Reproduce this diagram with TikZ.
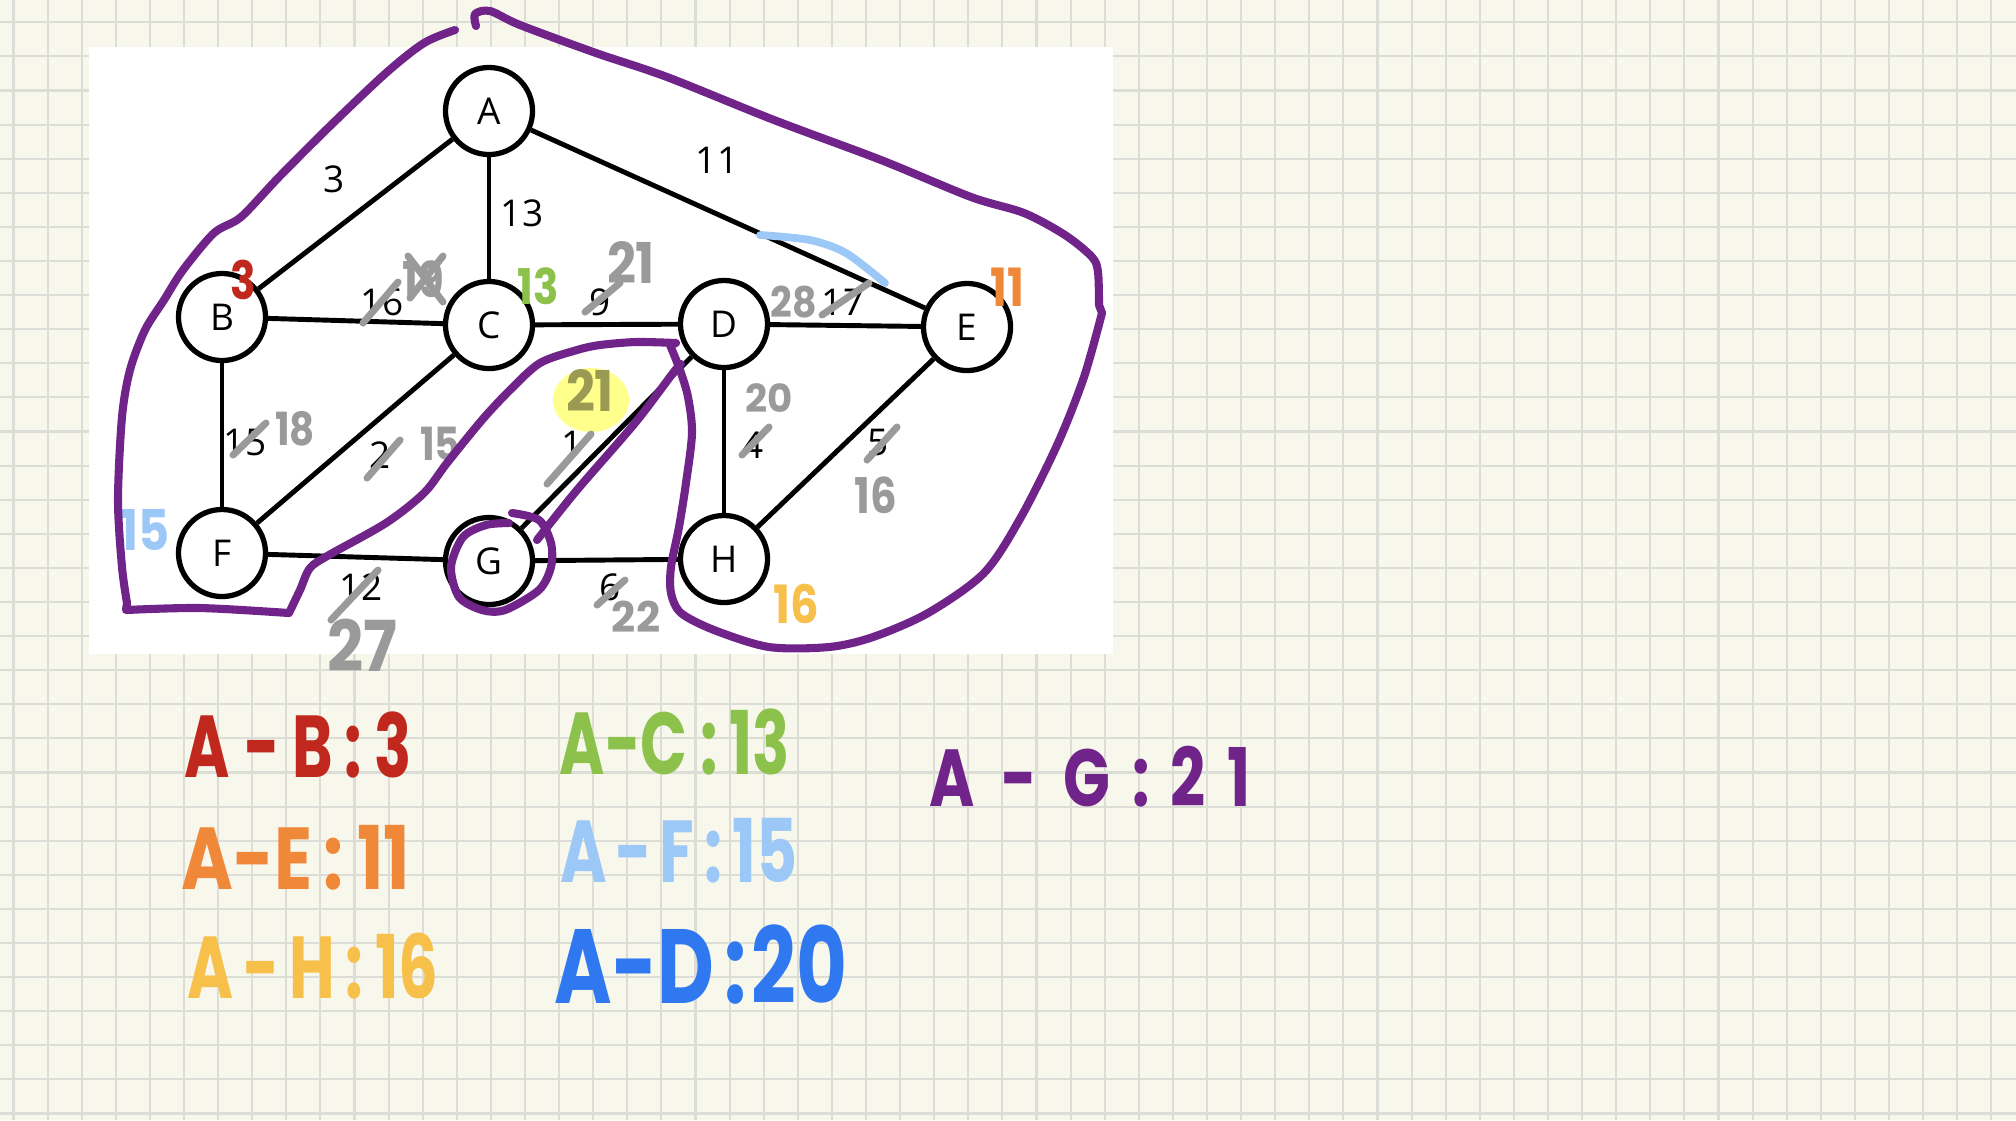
\documentclass[tikz,border=0pt]{standalone}
\usepackage{fontspec}
\setmainfont{Open Sans}
\newfontfamily\hand{Poppins}
\definecolor{bg}{HTML}{F7F7EC}
\definecolor{gridc}{HTML}{DDDDD8}
\definecolor{purp}{HTML}{70248A}
\definecolor{gr}{HTML}{9A9A9A}
\definecolor{hred}{HTML}{C0281E}
\definecolor{hgreen}{HTML}{8CC24C}
\definecolor{horange}{HTML}{F0883A}
\definecolor{hlblue}{HTML}{9CC8F8}
\definecolor{hyellow}{HTML}{F6C04A}
\definecolor{hblue}{HTML}{2F78F0}
\definecolor{hl}{HTML}{FFFF8C}
\definecolor{olivec}{HTML}{9A9A52}
\newcommand{\hfs}[1]{\hand\bfseries\fontsize{#1}{#1}\selectfont}
\tikzset{
  vtx/.style={circle, draw, line width=1.5pt, fill=white, minimum size=0.87cm, inner sep=0pt,
    font=\fontsize{10.5}{12}\selectfont},
  edgeline/.style={line width=1.4pt},
  wlbl/.style={inner sep=0pt, font=\fontsize{10.5}{12}\selectfont},
  hw/.style={inner sep=0pt},
  res/.style={inner sep=0pt, xscale=#1},
  strike/.style={gr, line width=2pt, line cap=round},
  purpline/.style={purp, line width=2.3pt, line cap=round, line join=round},
  gridline/.style={gridc, line width=0.6pt}
}
\begin{document}
\begin{tikzpicture}[x=0.01cm, y=-0.01cm]
\useasboundingbox (0,0) rectangle (2016,1120);
\fill[bg] (0,0) rectangle (2016,1120);
\foreach \i in {0,...,59} \draw[gridline] ({13.5+34.1*\i},0) -- ++(0,1120);
\foreach \j in {0,...,32} \draw[gridline] (0,{22.3+34.1*\j}) -- ++(2016,0);
\fill[white] (89,47) rectangle (1113,654);
% highlight
\fill[hl] (591,400) ellipse [x radius=38, y radius=32];
% vertices
\node[vtx] (A) at (489,111) {A};
\node[vtx] (B) at (222,317) {B};
\node[vtx] (C) at (489,325) {C};
\node[vtx] (D) at (724,324) {D};
\node[vtx] (E) at (967,327) {E};
\node[vtx] (F) at (222,553) {F};
\node[vtx] (G) at (489,561) {G};
\node[vtx] (H) at (724,559) {H};
\foreach \a/\b in {A/B,A/C,A/E,B/C,B/F,C/D,C/F,D/E,D/G,D/H,E/H,F/G,G/H}
  \draw[edgeline] (\a) -- (\b);
% edge weights
\node[wlbl] (wAB) at (334,179) {3};
\node[wlbl] (wAC) at (522,213) {13};
\node[wlbl] (wAE) at (717,160) {11};
\node[wlbl] (wBC) at (382,302) {16};
\node[wlbl] (wCD) at (600,302) {9};
\node[wlbl] (wDE) at (843,302) {17};
\node[wlbl] (wBF) at (245,442) {15};
\node[wlbl] (wCF) at (380,455) {2};
\node[wlbl] (wDG) at (572,444) {1};
\node[wlbl] (wDH) at (753,445) {4};
\node[wlbl] (wEH) at (878,442) {5};
\node[wlbl] (wFG) at (361,587) {12};
\node[wlbl] (wGH) at (610,587) {6};
% strikes
\draw[strike] (363,323) -- (398,282);
\draw[strike] (585,312) -- (620,283);
\draw[strike] (822,315) -- (869,283);
\draw[strike] (233,455) -- (266,423);
\draw[strike] (367,478) -- (400,440);
\draw[strike] (547,484) -- (591,434);
\draw[strike] (742,455) -- (769,427);
\draw[strike] (867,460) -- (897,427);
\draw[strike] (331,620) -- (378,570);
\draw[strike] (597,605) -- (625,580);
% gray handwritten
\node[hw, gr, xscale=0.85] (g19) at (423,279) {\hfs{14}19};
\draw[strike] (408,256) -- (443,302);
\draw[strike] (443,256) -- (410,298);
\node[hw, gr, xscale=0.9] (g21a) at (631,262) {\hfs{16}21};
\node[hw, gr, xscale=0.9] (g28) at (794,302) {\hfs{12}28};
\node[hw, gr, xscale=0.85] (g18) at (295,429) {\hfs{13}18};
\node[hw, gr, xscale=0.85] (g15) at (440,444) {\hfs{13}15};
\node[hw, olivec, xscale=0.9] (g21b) at (590,390) {\hfs{16}21};
\node[hw, gr] (g20) at (769,398) {\hfs{11}20};
\node[hw, gr, xscale=0.85] (g16) at (876,495) {\hfs{14}16};
\node[hw, gr, xscale=0.9] (g27) at (362,645) {\hfs{20}27};
\node[hw, gr] (g22) at (636,617) {\hfs{12}22};
% colored annotations
\node[hw, hred, xscale=0.8] (cB) at (243,280) {\hfs{15}3};
\node[hw, hgreen, xscale=0.85] (cC) at (538,286) {\hfs{14}13};
\node[hw, horange, xscale=0.85] (cE) at (1007,287) {\hfs{15}11};
\node[hw, hlblue, xscale=0.85] (cF) at (145,530) {\hfs{16}15};
\node[hw, hyellow, xscale=0.85] (cH) at (796,604) {\hfs{15}16};
\draw[hlblue, line width=2.2pt, line cap=round] plot[smooth] coordinates {(760,235) (810,240) (846,253) (885,283)};
% purple outline
\draw[purpline] plot[smooth] coordinates {(476,26) (475,14) (490,11) (520,25) (596,53) (667,77) (774,120) (881,160) (971,197) (1024,213) (1065,235) (1092,257) (1098,272) (1099,305)}
  -- plot[smooth] coordinates {(1102,313) (1084,377) (1058,443) (1021,517) (984,573) (928,613) (873,637) (829,647) (769,647) (714,630) (681,613) (671,593) (671,567) (679,527) (686,483) (692,433) (688,397) (680,370) (670,345)}
  -- plot[smooth] coordinates {(676,343) (636,342) (600,345) (577,350) (540,363) (510,390) (482,420) (447,463) (424,493) (386,523) (329,555) (310,568) (300,590) (289,613)}
  -- plot[smooth] coordinates {(289,613) (200,608) (126,610)}
  -- plot[smooth] coordinates {(127,603) (122,567) (118,500) (122,417) (130,370) (145,330) (164,300) (183,270) (214,233) (241,217) (279,177) (329,127) (386,73) (424,43) (455,30)};
\draw[purpline] plot[smooth] coordinates {(512,513) (539,520) (551,543) (551,567) (539,590) (505,610) (482,610) (459,597) (451,567) (463,537) (486,525) (509,523)};
\draw[purpline] plot[smooth] coordinates {(537,540) (577,490) (635,423) (673,373) (681,364)};
% bottom results
\node[res=0.7, hred] (rAB) at (298,745) {\hfs{25}A\hspace{6pt}-\hspace{5pt}B\hspace{5pt}:\hspace{5pt}3};
\node[res=0.8, horange] (rAE) at (296,858) {\hfs{25}A-E\hspace{4pt}:\hspace{5pt}11};
\node[res=0.71, hyellow] (rAH) at (313,966) {\hfs{25}A\hspace{4pt}-\hspace{4pt}H\hspace{4pt}:\hspace{5pt}16};
\node[res=0.7, hgreen] (rAC) at (675,742) {\hfs{25}A-C\hspace{5pt}:\hspace{5pt}13};
\node[res=0.72, hlblue] (rAF) at (679,851) {\hfs{25}A\hspace{3pt}-\hspace{3pt}F\hspace{4pt}:\hspace{4pt}15};
\node[res=0.74, hblue] (rAD) at (701,965) {\hfs{30}A-D\hspace{4pt}:\hspace{2pt}20};
\node[res=0.76, purp] (rAG) at (1090,777) {\hfs{23}A\hspace{10pt}-\hspace{10pt}G\hspace{8pt}:\hspace{8pt}2\hspace{8pt}1};
\end{tikzpicture}
\end{document}
